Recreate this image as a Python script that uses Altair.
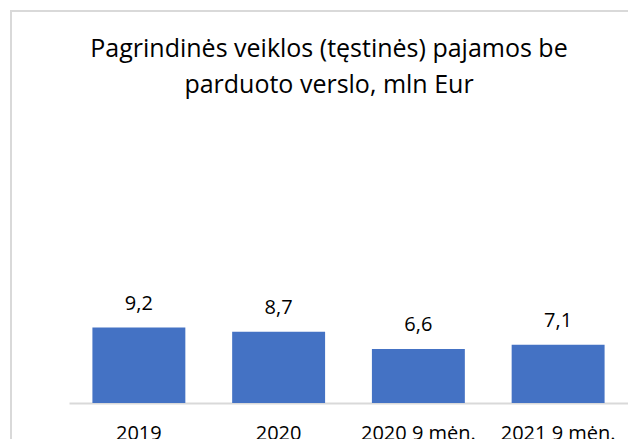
import altair as alt
import pandas as pd

categories = ["2019", "2020", "2020 9 mėn.", "2021 9 mėn."]
values = [9.2, 8.7, 6.6, 7.1]
labels = [f"{v:.1f}".replace(".", ",") for v in values]
title_lines = ["Pagrindinės veiklos (tęstinės) pajamos be", "parduoto verslo, mln Eur"]

df = pd.DataFrame({"cat": categories, "val": values, "lbl": labels})

FONT = "Open Sans"

x = alt.X("cat:N", sort=categories, title=None,
          scale=alt.Scale(paddingInner=0.335, paddingOuter=0.1675),
          axis=alt.Axis(labelAngle=0, ticks=False, tickSize=0, labelPadding=20,
                        labelBaseline="top", labelFontSize=20, labelFont=FONT,
                        labelColor="#000000", domainColor="#d9d9d9", domainWidth=2,
                        grid=False))
y = alt.Y("val:Q", scale=alt.Scale(domain=[0, 30], nice=False), axis=None)

bars = alt.Chart(df).mark_bar(color="#4472C4").encode(x=x, y=y)
text = alt.Chart(df).mark_text(font=FONT, fontSize=20, color="#000000",
                               baseline="alphabetic", dy=-18).encode(
    x=alt.X("cat:N", sort=categories), y="val:Q", text="lbl:N")

border = alt.Chart(alt.Data(values=[{}])).mark_rect(
    fill="transparent", stroke="#d9d9d9", strokeWidth=2).encode(
    x=alt.value(-58), y=alt.value(-146), x2=alt.value(700), y2=alt.value(500))

title = alt.Chart(alt.Data(values=[{}])).mark_text(
    text=title_lines, font=FONT, fontSize=25, color="#000000",
    lineHeight=36, baseline="top", align="center").encode(
    x=alt.value(260), y=alt.value(-120))

chart = alt.layer(border, title, bars, text).properties(
    width=559, height=246,
    autosize=alt.AutoSizeParams(type="none"),
    padding={"left": 61, "top": 149, "right": 0, "bottom": 60},
).configure_view(stroke=None)

chart.save("out.html", embed_options={"renderer": "svg", "actions": False})
